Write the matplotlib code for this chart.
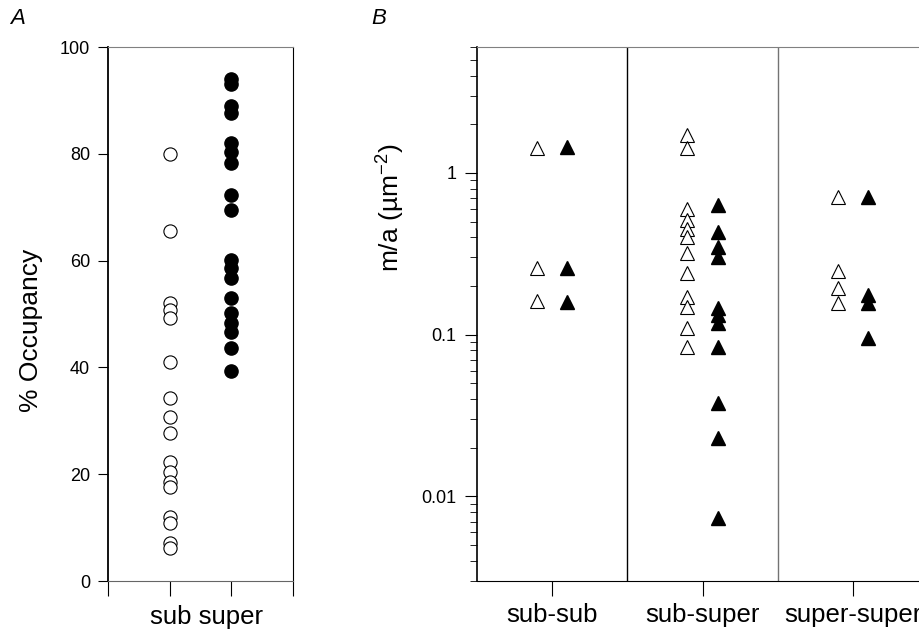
import numpy as np
import matplotlib
matplotlib.use("Agg")
import matplotlib.pyplot as plt
from matplotlib.ticker import FixedLocator, LogLocator, NullFormatter

plt.rcParams['font.family'] = ['Liberation Sans', 'DejaVu Sans']
plt.rcParams['mathtext.fontset'] = 'custom'
plt.rcParams['mathtext.rm'] = 'Liberation Sans'

# panel A: % occupancy
occ_sub = [80, 65.5, 52, 50.7, 49.3, 41, 34.3, 30.8, 27.7, 22.2, 20.5, 18.6, 17.7, 12, 10.9, 7.1, 6.2]
occ_super = [94, 93, 89, 87.6, 82, 80.3, 78.3, 72.2, 69.5, 60.1, 58.6, 56.7, 53, 50.2, 48.3,
             46.6, 43.6, 39.4]
occ_groups = ["sub", "super"]

# panel B: m/a (um^-2), open = first of pair, filled = second
pair_labels = ["sub-sub", "sub-super", "super-super"]
ma_open = [
    [1.42, 0.257, 0.162],
    [1.71, 1.42, 0.60, 0.51, 0.45, 0.40, 0.32, 0.24, 0.172, 0.149, 0.11, 0.0845],
    [0.706, 0.249, 0.194, 0.156],
]
ma_filled = [
    [1.45, 0.257, 0.16],
    [0.633, 0.433, 0.35, 0.303, 0.147, 0.132, 0.118, 0.0845, 0.0378, 0.023, 0.0074],
    [0.706, 0.176, 0.158, 0.095],
]

fig = plt.figure(figsize=(9.2, 6.33), dpi=100)

# ---- panel A
axA = fig.add_axes([0.1174, 0.0821, 0.2011, 0.8436])
axA.plot(np.full(len(occ_sub), 1), occ_sub, 'o', ms=9.5, mfc='white', mec='black', mew=0.8)
axA.plot(np.full(len(occ_super), 2), occ_super, 'o', ms=9.5, mfc='black', mec='black')
axA.set_xlim(0, 3)
axA.set_ylim(0, 100)
axA.set_yticks([0, 20, 40, 60, 80, 100])
axA.set_xticks([0, 1, 2, 3])
axA.set_xticklabels([])
axA.tick_params(axis='y', direction='out', length=7, width=0.8, labelsize=13, pad=6)
axA.tick_params(axis='x', direction='out', length=11, width=0.8)
axA.text(1.6, -0.067, " ".join(occ_groups), transform=axA.get_xaxis_transform(),
         ha='center', va='center', fontsize=18.5)
axA.set_ylabel("% Occupancy", fontsize=19)
axA.yaxis.set_label_coords(-0.35, 0.47)
axA.spines['left'].set_linewidth(1.3)
axA.spines['right'].set_linewidth(0.8)
axA.spines['bottom'].set_color('0.4')
axA.spines['top'].set_color('0.5')
axA.spines['top'].set_linestyle((0, (1, 1)))
axA.text(-0.53, 1.054, "A", transform=axA.transAxes, fontsize=16, style='italic',
         ha='left', va='center')

# ---- panel B
axB = fig.add_axes([0.5185, 0.0821, 0.4902, 0.8436])
for i in range(len(pair_labels)):
    axB.plot(np.full(len(ma_open[i]), i + 1 - 0.1), ma_open[i], '^', ms=9.5,
             mfc='white', mec='black', mew=0.8)
    axB.plot(np.full(len(ma_filled[i]), i + 1 + 0.1), ma_filled[i], '^', ms=9.5,
             mfc='black', mec='black')
axB.set_yscale('log')
axB.set_ylim(0.003, 6)
axB.set_xlim(0.5, 3.5)
axB.yaxis.set_major_locator(FixedLocator([0.01, 0.1, 1]))
axB.set_yticklabels(["0.01", "0.1", "1"])
axB.yaxis.set_minor_locator(LogLocator(base=10, subs=np.arange(2, 10)))
axB.yaxis.set_minor_formatter(NullFormatter())
axB.set_xticks([1, 2, 3])
axB.set_xticklabels(pair_labels, fontsize=18.5)
axB.tick_params(axis='x', direction='out', length=11, width=0.8, pad=5)
axB.tick_params(axis='y', which='major', direction='out', length=9, width=0.8,
                labelsize=13, pad=6)
axB.tick_params(axis='y', which='minor', direction='out', length=5, width=0.6)
axB.axvline(1.5, color='black', lw=1.0)
axB.axvline(2.5, color='0.45', lw=1.0)
axB.set_ylabel(r"m/a (µm$^{-2}$)", fontsize=19)
axB.yaxis.set_label_coords(-0.158, 0.70)
axB.spines['left'].set_linewidth(1.2)
axB.spines['top'].set_color('0.5')
axB.spines['top'].set_linestyle((0, (1, 1)))
axB.spines['right'].set_visible(False)
axB.text(-0.235, 1.054, "B", transform=axB.transAxes, fontsize=16, style='italic',
         ha='left', va='center')

fig.savefig("out.png", dpi=100)
